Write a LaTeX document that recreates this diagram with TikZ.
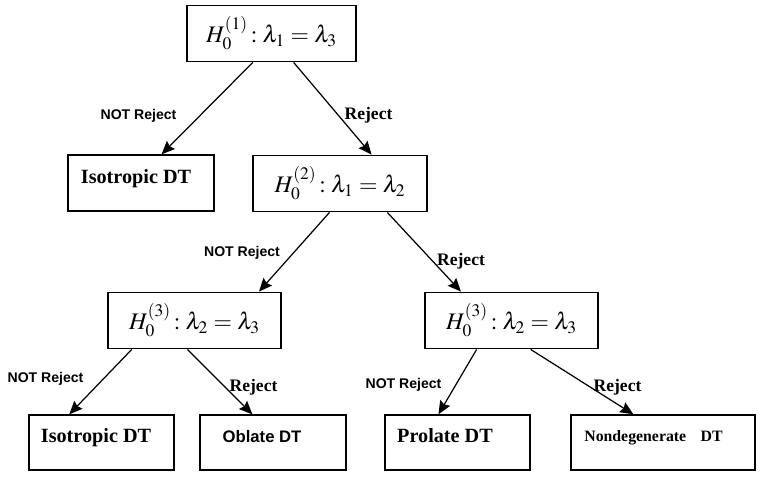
\documentclass[tikz,border=0pt]{standalone}
\usepackage{mathptmx}
\usepackage{fontspec}
\setmainfont{Liberation Serif}
\setsansfont{Liberation Sans}
\usepackage{tikz}
\usetikzlibrary{arrows.meta,calc}
\tikzstyle{arrow} = [line width=0.7pt,-{Stealth[length=7.5pt,width=6.5pt,inset=1pt]}]
\tikzstyle{hypbox} = [rectangle, draw, line width=0.8pt, inner sep=0pt, minimum height=1.13cm, font=\fontsize{13.5}{16}\selectfont]
\tikzstyle{dtbox} = [rectangle, draw, line width=0.8pt, inner sep=0pt, minimum height=1.1cm]
\tikzstyle{notrej} = [anchor=base, inner sep=0pt, font=\sffamily\bfseries\fontsize{8}{10}\selectfont]
\tikzstyle{rej} = [anchor=base, inner sep=0pt, font=\bfseries\fontsize{10}{12}\selectfont]

\begin{document}
\begin{tikzpicture}[x=0.02cm, y=-0.02cm]
    \useasboundingbox (0,0) rectangle (763,480);

    % Hypotheses
    \node[hypbox, minimum width=3.38cm] (h1) at (271.5, 33.5) {$H_0^{(1)}\!:\lambda_1=\lambda_3$};
    \node[hypbox, minimum width=3.48cm] (h2) at (340, 183.5) {$H_0^{(2)}\!:\lambda_1=\lambda_2$};
    \node[hypbox, minimum width=3.46cm] (h3a) at (194.5, 320.5) {$H_0^{(3)}\!:\lambda_2=\lambda_3$};
    \node[hypbox, minimum width=3.46cm] (h3b) at (511.5, 320.5) {$H_0^{(3)}\!:\lambda_2=\lambda_3$};

    % Isotropic (first level)
    \node[dtbox, minimum width=2.92cm, minimum height=1.12cm] (iso1) at (141, 183) {};
    \node[anchor=base, font=\bfseries\fontsize{11.5}{14}\selectfont] at (136, 183) {Isotropic DT};

    % Bottom row
    \node[dtbox, minimum width=2.9cm] (iso2) at (101.5, 442.5) {};
    \node[anchor=base, font=\bfseries\fontsize{11.5}{14}\selectfont] at (96, 442) {Isotropic DT};
    \node[dtbox, minimum width=2.92cm] (obl) at (273, 442.5) {};
    \node[anchor=base, font=\sffamily\bfseries\fontsize{9.5}{12}\selectfont] at (262, 442) {Oblate DT};
    \node[dtbox, minimum width=2.9cm] (pro) at (457.5, 442.5) {};
    \node[anchor=base, font=\bfseries\fontsize{11.5}{14}\selectfont] at (445, 442) {Prolate DT};
    \node[dtbox, minimum width=3.68cm] (nondeg) at (663, 442.5) {};
    \node[anchor=base, font=\bfseries\fontsize{9}{11}\selectfont] at (653.5, 441) {Nondegenerate\hspace{6pt} DT};

    % Arrows
    \draw[arrow] ($(h1.south west)!0.39!(h1.south east)$) -- ($(iso1.north west)!0.64!(iso1.north east)$);
    \draw[arrow] ($(h1.south west)!0.63!(h1.south east)$) -- ($(h2.north west)!0.68!(h2.north east)$);
    \draw[arrow] ($(h2.south west)!0.44!(h2.south east)$) -- ($(h3a.north west)!0.87!(h3a.north east)$);
    \draw[arrow] ($(h2.south west)!0.77!(h2.south east)$) -- ($(h3b.north west)!0.21!(h3b.north east)$);
    \draw[arrow] ($(h3a.south west)!0.14!(h3a.south east)$) -- ($(iso2.north west)!0.28!(iso2.north east)$);
    \draw[arrow] ($(h3a.south west)!0.46!(h3a.south east)$) -- ($(obl.north west)!0.36!(obl.north east)$);
    \draw[arrow] ($(h3b.south west)!0.30!(h3b.south east)$) -- ($(pro.north west)!0.37!(pro.north east)$);
    \draw[arrow] ($(h3b.south west)!0.61!(h3b.south east)$) -- ($(nondeg.north west)!0.34!(nondeg.north east)$);

    % Labels
    \node[notrej] (n1) at (138.5, 119) {NOT Reject};
    \node[rej] (r1) at (368.5, 119) {Reject};
    \node[notrej] (n2) at (242, 256) {NOT Reject};
    \node[rej] (r2) at (461, 265) {Reject};
    \node[notrej] (n3) at (45.5, 382) {NOT Reject};
    \node[rej] (r3) at (253.5, 391) {Reject};
    \node[notrej] (n4) at (403.5, 388) {NOT Reject};
    \node[rej] (r4) at (617.5, 391) {Reject};
\end{tikzpicture}
\end{document}
